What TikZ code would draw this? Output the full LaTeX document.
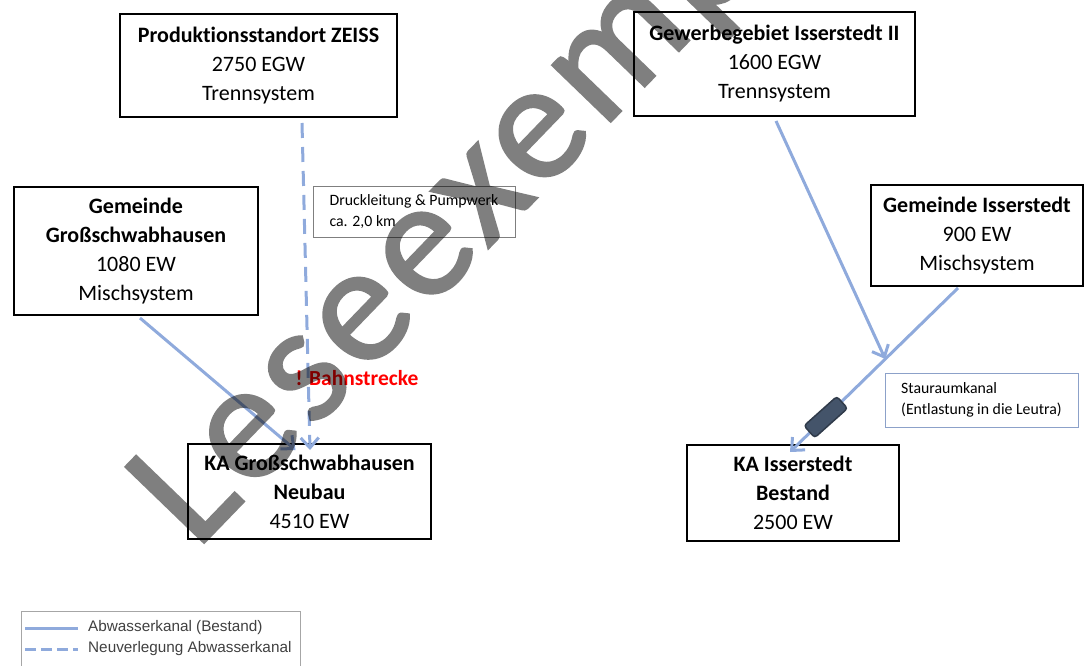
\documentclass[tikz,border=0pt]{standalone}
\usepackage{fontspec}
\setmainfont{Carlito}[Ligatures=NoCommon]
\newfontfamily\legendfont{Liberation Sans}
\newfontfamily\markfont{Carlito}[LetterSpace=3.5, FakeBold=1.4]
\usepackage{tikz}
\usetikzlibrary{arrows.meta,positioning,calc}
\definecolor{pipeblue}{HTML}{8FAADC}
\definecolor{stauslate}{HTML}{44546A}
\definecolor{notegray}{HTML}{7F7F7F}
\definecolor{legendgray}{HTML}{A6A6A6}
\tikzset{
    site/.style={draw, line width=2pt, align=center, inner sep=0pt, font=\fontsize{22}{29}\selectfont},
    note/.style={draw=notegray, line width=1pt, align=left, inner sep=0pt, font=\fontsize{15.8}{21}\selectfont},
    pipe/.style={-{Straight Barb[length=10pt, width=18pt]}, line width=3pt, pipeblue},
    newpipe/.style={pipe, dash pattern=on 15pt off 9pt},
    legtext/.style={anchor=west, inner sep=0pt, text=black!75, font=\legendfont\fontsize{15.3}{18}\selectfont}
}

\begin{document}
\begin{tikzpicture}[x=1pt, y=-1pt]
    \useasboundingbox (0,0) rectangle (1084,666);

    % Einleiter
    \node[site, minimum width=277, minimum height=103] (zeiss) at (258.5,65.5) {\textbf{Produktionsstandort ZEISS}\\2750 EGW\\Trennsystem};
    \node[site, minimum width=281, minimum height=104] (gewerbe) at (774.5,64) {\textbf{Gewerbegebiet Isserstedt II}\\1600 EGW\\Trennsystem};
    \node[site, minimum width=244, minimum height=128] (gross) at (136,251) {\textbf{Gemeinde}\\\textbf{Großschwabhausen}\\1080 EW\\Mischsystem};
    \node[site, minimum width=212, minimum height=101] (isser) at (977,235.5) {\textbf{Gemeinde Isserstedt}\\900 EW\\Mischsystem};

    % Klaeranlagen
    \node[site, minimum width=243, minimum height=95] (kagross) at (309.5,491.5) {\textbf{KA Großschwabhausen}\\\textbf{Neubau}\\4510 EW};
    \node[site, minimum width=212, minimum height=96] (kaisser) at (793,493) {\textbf{KA Isserstedt}\\\textbf{Bestand}\\2500 EW};

    % Hinweise
    \node[note, minimum width=202, minimum height=51] (druck) at (414,211.5) {Druckleitung \& Pumpwerk\\ca. 2,0 km};
    \node[note, draw=pipeblue!80!gray, minimum width=193, minimum height=54] (stau) at (981.5,400) {Stauraumkanal\\(Entlastung in die Leutra)};
    \node[text=red, inner sep=0pt, font=\bfseries\fontsize{21.5}{23}\selectfont] (bahn) at (357,378) {! Bahnstrecke};

    % Kanaele
    \coordinate (issA) at ($(isser.south)+(-19,1)$);
    \coordinate (issB) at ($(kaisser.north)+(-3,8)$);
    \coordinate (junc) at ($(issA)!0.433!(issB)$);
    \draw[newpipe] ($(zeiss.south)+(43.5,5)$) -- ($(kagross.north)+(0.5,7)$);
    \draw[pipe] ($(gross.south)+(4,2)$) -- ($(kagross.north)+(-14,7)$);
    \draw[pipe] ($(gewerbe.south)+(1.5,4)$) -- (junc);
    \draw[pipe] (issA) -- (issB);
    \node[draw=stauslate!70!black, fill=stauslate, line width=1.5pt, rounded corners=3pt,
          minimum width=44, minimum height=16, inner sep=0pt, rotate=41.8] (kanal) at ($(issA)!0.787!(issB)$) {};

    % Legende
    \draw[legendgray, line width=1pt] (21,611) rectangle (300,690);
    \coordinate (leg1a) at (25,628);
    \coordinate (leg1b) at (78,628);
    \coordinate (leg2a) at (25,649);
    \coordinate (leg2b) at (78,649);
    \draw[pipeblue, line width=3pt] (leg1a) -- (leg1b);
    \draw[pipeblue, line width=3pt, dash pattern=on 11pt off 5pt] (leg2a) -- (leg2b);
    \node[legtext] (leg1) at (88,628) {Abwasserkanal (Bestand)};
    \node[legtext] (leg2) at (88,649) {Neuverlegung Abwasserkanal};

    % Wasserzeichen
    \begin{scope}[transparency group, opacity=0.5]
        \node[rotate=46, anchor=base west, inner sep=0pt, text=black,
              font=\markfont\fontsize{170}{170}\selectfont] (mark) at (196,551) {Leseexemplar};
    \end{scope}
\end{tikzpicture}
\end{document}
